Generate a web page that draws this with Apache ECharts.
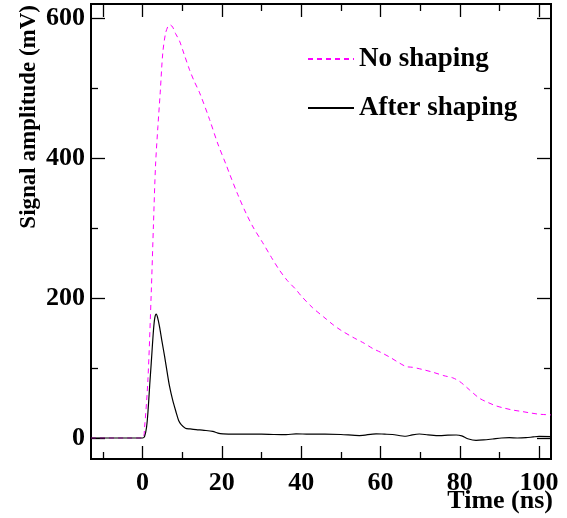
<!DOCTYPE html>
<html>
<head>
<meta charset="utf-8">
<script src="https://cdn.jsdelivr.net/npm/echarts@6/dist/echarts.min.js"></script>
<style>
html,body{margin:0;padding:0;background:#fff;}
#chart{width:567px;height:518px;}
</style>
</head>
<body>
<div id="chart"></div>
<script>
// ---- data ----
var seriesNames = ['No shaping', 'After shaping'];

var timeNoShaping = [-13, 0, 0.5, 1.35, 2.19, 2.75, 3.28, 3.87, 4.45, 5.1, 5.8, 6.5, 7.0, 7.6, 8.3, 9.33, 10.5, 11.85, 13, 14.4, 16.9, 19, 21.1, 21.9, 24, 26.1, 28, 30.3, 32.5, 34.5, 36.5, 38.7, 40, 42.9, 46.3, 48, 50, 53, 56, 58, 60.2, 62.5, 64.8, 66.5, 68.1, 70.5, 73.2, 76, 78.2, 79.9, 81, 82.4, 84.9, 87, 89.1, 91, 93.3, 95.5, 97.6, 100, 103];
var valuesNoShaping = [0, 0, 15, 83, 207, 305, 390, 445, 493, 550, 578, 589, 590, 587, 578, 567, 548, 526, 510, 493, 455, 420, 390, 378, 348, 321, 300, 279, 258, 240, 225, 212, 203, 186, 170, 162, 154, 144, 135, 128, 122, 115, 107, 102, 101, 98, 94, 89, 86, 81, 76, 69, 57, 51, 46, 43, 40, 38, 36, 34, 33];

var timeShaped = [-13, 0, 0.5, 1.0, 1.35, 1.8, 2.19, 2.77, 3.1, 3.45, 3.8, 4.28, 4.9, 5.55, 6.2, 6.8, 7.6, 8.5, 9.1, 9.75, 10.8, 12, 13.5, 15.5, 17.7, 19, 20.3, 23, 26, 30, 33, 36.2, 38.7, 42, 46, 50, 54.7, 58.9, 61, 63, 66.4, 68, 69.8, 72, 74.9, 77, 79.1, 80.5, 82, 84.1, 86, 88.3, 90.5, 92.5, 94.5, 96.7, 98.5, 100, 103];
var valuesShaped = [0, 0, 2, 15, 36, 75, 107, 155, 172, 177, 172, 159, 138, 117, 94, 74, 54, 36, 25, 19, 14, 13, 12, 11, 9.5, 7, 6, 5.5, 5.5, 5.5, 5, 4.7, 6, 5.5, 5.5, 5, 3.5, 6, 5.5, 5, 2.5, 4.5, 5.7, 4.5, 3.3, 4, 4.3, 3, -1, -3.4, -2.8, -1.4, 0, 0.4, 0, 0.4, 1.5, 2.3, 2];

var xMajorTicks = [0, 20, 40, 60, 80, 100];
var xMinorTicks = [-10, 10, 30, 50, 70, 90];
var xTopMajorTicks = [-10, 0, 20, 40, 60, 80, 100];
var xTopMinorTicks = [10, 30, 50, 70, 90];
var yMajorTicks = [0, 200, 400, 600];
var yMinorTicks = [100, 300, 500];

var xTitle = 'Time (ns)';
var yTitle = 'Signal amplitude (mV)';

// ---- build ----
function pairs(xs, ys) { return xs.map(function (x, i) { return [x, ys[i]]; }); }

var FONT = 'Liberation Serif';
var XMIN = -13, XMAX = 103, YMIN = -30, YMAX = 620;

function xAx(pos, ticks, len, labels) {
  return {
    type: 'value', position: pos, min: XMIN, max: XMAX, gridIndex: 0, offset: 0,
    axisLine: { show: false, onZero: false },
    splitLine: { show: false },
    axisTick: { show: true, inside: true, length: len, customValues: ticks, lineStyle: { color: '#000', width: 1.3 } },
    axisLabel: labels ? {
      show: true, customValues: labels, margin: 11,
      fontFamily: FONT, fontWeight: 'bold', fontSize: 26, color: '#000'
    } : { show: false }
  };
}
function yAx(pos, ticks, len, labels) {
  return {
    type: 'value', position: pos, min: YMIN, max: YMAX, gridIndex: 0, offset: 0,
    axisLine: { show: false, onZero: false },
    splitLine: { show: false },
    axisTick: { show: true, inside: true, length: len, customValues: ticks, lineStyle: { color: '#000', width: 1.3 } },
    axisLabel: labels ? {
      show: true, customValues: labels, margin: 6,
      fontFamily: FONT, fontWeight: 'bold', fontSize: 26, color: '#000'
    } : { show: false }
  };
}

var legendText = { fontFamily: FONT, fontWeight: 'bold', fontSize: 27, color: '#000', lineHeight: 30 };

var chart = echarts.init(document.getElementById('chart'), null, { renderer: 'canvas' });
chart.setOption({
  animation: false,
  backgroundColor: '#fff',
  grid: { left: 91, top: 4, width: 460, height: 455, show: true, borderColor: '#000', borderWidth: 2, backgroundColor: 'transparent', containLabel: false },
  xAxis: [
    xAx('bottom', xMajorTicks, 13, xMajorTicks),
    xAx('bottom', xMinorTicks, 7, null),
    xAx('top', xTopMajorTicks, 13, null),
    xAx('top', xTopMinorTicks, 7, null)
  ],
  yAxis: [
    yAx('left', yMajorTicks, 14, yMajorTicks),
    yAx('left', yMinorTicks, 7, null),
    yAx('right', yMajorTicks, 14, null),
    yAx('right', yMinorTicks, 7, null)
  ],
  legend: [
    {
      data: [seriesNames[0]], left: 302, top: 39, itemWidth: 46, itemHeight: 30, itemGap: 10,
      itemStyle: { opacity: 0 },
      textStyle: legendText, selectedMode: false
    },
    {
      data: [seriesNames[1]], left: 302, top: 88, itemWidth: 46, itemHeight: 30, itemGap: 10,
      itemStyle: { opacity: 0 },
      textStyle: legendText, selectedMode: false
    }
  ],
  series: [
    {
      name: seriesNames[0], type: 'line', xAxisIndex: 0, yAxisIndex: 0,
      data: pairs(timeNoShaping, valuesNoShaping),
      showSymbol: false, symbol: 'none', smooth: 0.3,
      lineStyle: { color: '#ff00ff', width: 1, type: [5, 4] },
      itemStyle: { color: '#ff00ff' }
    },
    {
      name: seriesNames[1], type: 'line', xAxisIndex: 0, yAxisIndex: 0,
      data: pairs(timeShaped, valuesShaped),
      showSymbol: false, symbol: 'none', smooth: 0.3,
      lineStyle: { color: '#000', width: 1.2, type: 'solid' },
      itemStyle: { color: '#000' }
    }
  ],
  graphic: [
    {
      type: 'text', x: 553, y: 488,
      style: { text: xTitle, fontFamily: FONT, fontWeight: 'bold', fontSize: 26, fill: '#000', align: 'right', verticalAlign: 'top' }
    },
    {
      type: 'text', x: 29, y: 5, rotation: Math.PI / 2,
      style: { text: yTitle, fontFamily: FONT, fontWeight: 'bold', fontSize: 23, fill: '#000', align: 'right', verticalAlign: 'middle' }
    }
  ]
});
</script>
</body>
</html>
